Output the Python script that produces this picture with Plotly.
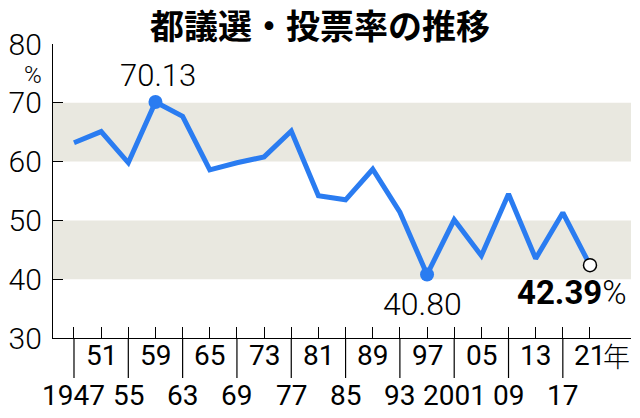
import plotly.graph_objects as go

# ---- data ----
years = ["1947", "51", "55", "59", "63", "65", "69", "73", "77", "81",
         "85", "89", "93", "97", "2001", "05", "09", "13", "17", "21"]
turnout = [63.2, 65.1, 59.8, 70.13, 67.7, 58.6, 59.8, 60.8, 65.2, 54.2,
           53.5, 58.7, 51.4, 40.80, 50.1, 44.0, 54.5, 43.5, 51.3, 42.39]
y_ticks = [30, 40, 50, 60, 70, 80]
bands = [(40, 50), (60, 70)]
highlight_max = 3   # 1959
highlight_min = 13  # 1997
latest = 19         # 2021

idx = list(range(len(years)))

BLUE = "#2a7cf1"
BAND = "#e9e8e0"
NUM_FONT = "Roboto, Liberation Sans, sans-serif"
LABEL_FONT = "Roboto, Liberation Sans, sans-serif"
CJK = "Noto Sans CJK JP, Noto Sans CJK SC, sans-serif"

# page body has an 8px margin; figure is sized so it ends at 640x418
W, H = 632, 410

fig = go.Figure()

fig.add_trace(go.Scatter(x=idx, y=turnout, mode="lines",
                         line=dict(color=BLUE, width=5), hoverinfo="skip"))
fig.add_trace(go.Scatter(x=[idx[highlight_max], idx[highlight_min]],
                         y=[turnout[highlight_max], turnout[highlight_min]],
                         mode="markers", marker=dict(color=BLUE, size=14),
                         hoverinfo="skip"))
fig.add_trace(go.Scatter(x=[idx[latest]], y=[turnout[latest]], mode="markers",
                         marker=dict(color="white", size=13,
                                     line=dict(color="black", width=1.5)),
                         hoverinfo="skip"))

shapes = []
for lo, hi in bands:
    shapes.append(dict(type="rect", xref="paper", x0=0, x1=1, yref="y",
                       y0=lo, y1=hi, fillcolor=BAND, line=dict(width=0),
                       layer="below"))
for i in idx[::2]:
    shapes.append(dict(type="line", xref="x", x0=i, x1=i, yref="paper",
                       y0=0, y1=-0.136, line=dict(color="black", width=1.2)))

annotations = []
for i, lab in zip(idx, years):
    top = (i % 2 == 1)
    annotations.append(dict(xref="x", x=i, yref="paper",
                            y=-0.058 if top else -0.197,
                            text=lab, showarrow=False, xanchor="center",
                            yanchor="middle",
                            font=dict(family=LABEL_FONT, size=28, color="black")))
annotations.append(dict(xref="x", x=idx[latest], xshift=27, yref="paper",
                        y=-0.058, text="年", showarrow=False, xanchor="center",
                        yanchor="middle",
                        font=dict(family=CJK, size=27, color="black", weight=300)))
annotations.append(dict(xref="paper", x=-0.035, yref="paper", y=0.893,
                        text="%", showarrow=False, xanchor="center",
                        yanchor="middle",
                        font=dict(family=NUM_FONT, size=24, color="black", weight=300)))
annotations.append(dict(xref="x", x=idx[highlight_max], yref="y",
                        y=turnout[highlight_max], xshift=3, yshift=27,
                        text=f"{turnout[highlight_max]:.2f}", showarrow=False,
                        xanchor="center", yanchor="middle",
                        font=dict(family=NUM_FONT, size=31, color="black", weight=300)))
annotations.append(dict(xref="x", x=idx[highlight_min], yref="y",
                        y=turnout[highlight_min], xshift=-5, yshift=-29,
                        text=f"{turnout[highlight_min]:.2f}", showarrow=False,
                        xanchor="center", yanchor="middle",
                        font=dict(family=NUM_FONT, size=32, color="black", weight=300)))
annotations.append(dict(xref="x", x=idx[latest], yref="y",
                        y=turnout[latest], xshift=39, yshift=-27,
                        text=f"<b>{turnout[latest]:.2f}</b>%", showarrow=False,
                        xanchor="right", yanchor="middle",
                        font=dict(family=NUM_FONT, size=33, color="black", weight=300)))

fig.update_layout(
    width=W, height=H,
    margin=dict(l=45, r=9, t=36, b=80),
    paper_bgcolor="white", plot_bgcolor="white",
    showlegend=False,
    title=dict(text="<b>都議選・投票率の推移</b>", x=(320 - 8) / W, xanchor="center",
               xref="container", y=1 - 19 / H, yanchor="middle",
               yref="container",
               font=dict(family=CJK, size=34, color="black")),
    xaxis=dict(range=[-0.773, 20.51], showgrid=False, zeroline=False,
               showline=True, linecolor="black", linewidth=1.2,
               ticks="inside", ticklen=11, tickcolor="black", tickwidth=1.2,
               tickvals=idx, showticklabels=False, automargin=False,
               fixedrange=True),
    yaxis=dict(range=[30, 80], showgrid=False, zeroline=False,
               showline=True, linecolor="black", linewidth=1.2,
               ticks="inside", ticklen=10, tickcolor="black", tickwidth=1.2,
               tickvals=y_ticks, ticktext=[str(v) for v in y_ticks],
               tickfont=dict(family=NUM_FONT, size=30, color="black", weight=300),
               ticklabelstandoff=4, automargin=False, fixedrange=True),
    shapes=shapes, annotations=annotations,
)

fig.write_html("out.html")
